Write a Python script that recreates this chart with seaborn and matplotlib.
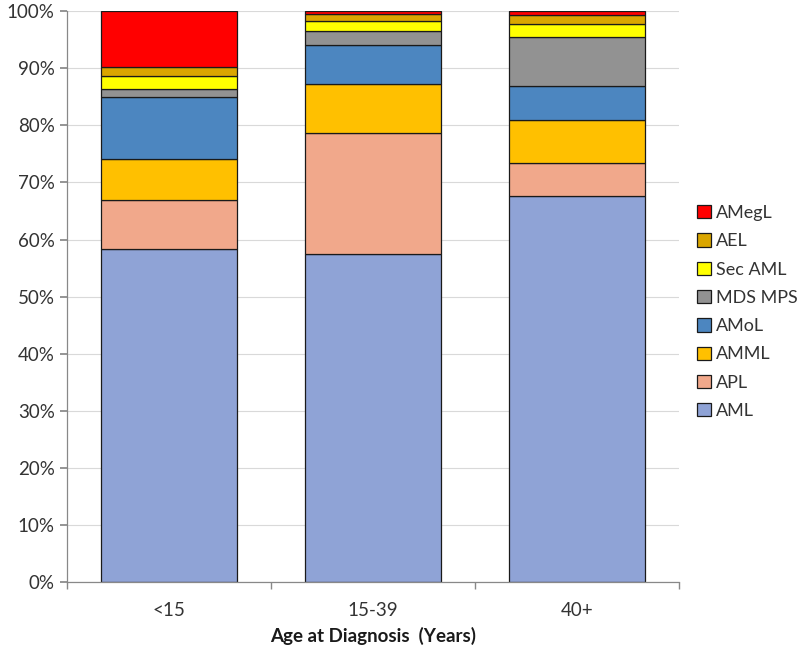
import matplotlib
matplotlib.use("Agg")
import matplotlib.pyplot as plt
import seaborn as sns
import numpy as np
import pandas as pd
from matplotlib.ticker import PercentFormatter, FixedLocator

categories = ["<15", "15-39", "40+"]
series_names = ["AML", "APL", "AMML", "AMoL", "MDS MPS", "Sec AML", "AEL", "AMegL"]
AML = [58.3, 57.4, 67.6]
APL = [8.6, 21.2, 5.8]
AMML = [7.2, 8.6, 7.6]
AMoL = [10.9, 6.8, 5.9]
MDS_MPS = [1.3, 2.6, 8.5]
Sec_AML = [2.4, 1.7, 2.4]
AEL = [1.5, 1.2, 1.6]
AMegL = [9.8, 0.5, 0.6]
colors = ["#8FA3D6", "#F1A88B", "#FFC000", "#4C86C0", "#929292", "#FFFF00", "#DAA600", "#FF0000"]

series = [AML, APL, AMML, AMoL, MDS_MPS, Sec_AML, AEL, AMegL]

sns.set_theme(style="white")
plt.rcParams['font.family'] = ['Lato', 'DejaVu Sans']

fig = plt.figure(figsize=(8, 6.52), dpi=100)
ax = fig.add_axes([0.084, 0.107, 0.765, 0.876])

bottom = np.zeros(len(categories))
for name, vals, col in zip(series_names, series, colors):
    df = pd.DataFrame({"Age": categories, "Pct": vals})
    sns.barplot(data=df, x="Age", y="Pct", order=categories, color=col,
                width=0.667, bottom=bottom.copy(), edgecolor="#1a1a1a",
                linewidth=0.9, label=name, ax=ax, saturation=1)
    bottom += np.array(vals)

ax.set_xlim(-0.5, 2.5)
ax.set_ylim(0, 100)
ax.yaxis.set_major_locator(FixedLocator(np.arange(0, 101, 10)))
ax.yaxis.set_major_formatter(PercentFormatter(decimals=0))
ax.grid(axis="y", color="#d9d9d9", linewidth=0.8)
ax.set_axisbelow(True)
for s in ["top", "right"]:
    ax.spines[s].set_visible(False)
for s in ["left", "bottom"]:
    ax.spines[s].set_color("#888888")
    ax.spines[s].set_linewidth(0.9)

ax.tick_params(axis="y", which="major", left=True, length=5, color="#888888",
               labelsize=13.5, labelcolor="#333333", pad=4)
ax.set_xticks(range(len(categories)))
ax.set_xticklabels(categories)
ax.tick_params(axis="x", which="major", bottom=False, labelsize=13.5,
               labelcolor="#333333", pad=8)
ax.set_xticks([-0.5, 0.5, 1.5, 2.5], minor=True)
ax.tick_params(axis="x", which="minor", bottom=True, length=5, color="#888888")

ax.set_xlabel("Age at Diagnosis  (Years)", fontsize=13.5, fontweight="bold",
              color="#1a1a1a", labelpad=6)
ax.set_ylabel("")

handles, labels = ax.get_legend_handles_labels()
leg = ax.legend(handles[::-1], labels[::-1], loc="center left",
                bbox_to_anchor=(1.018, 0.473), frameon=False, fontsize=13,
                handlelength=0.75, handleheight=0.75, handletextpad=0.3,
                labelspacing=0.68, borderaxespad=0)
for t in leg.get_texts():
    t.set_color("#333333")

fig.savefig("out.png", dpi=100)
